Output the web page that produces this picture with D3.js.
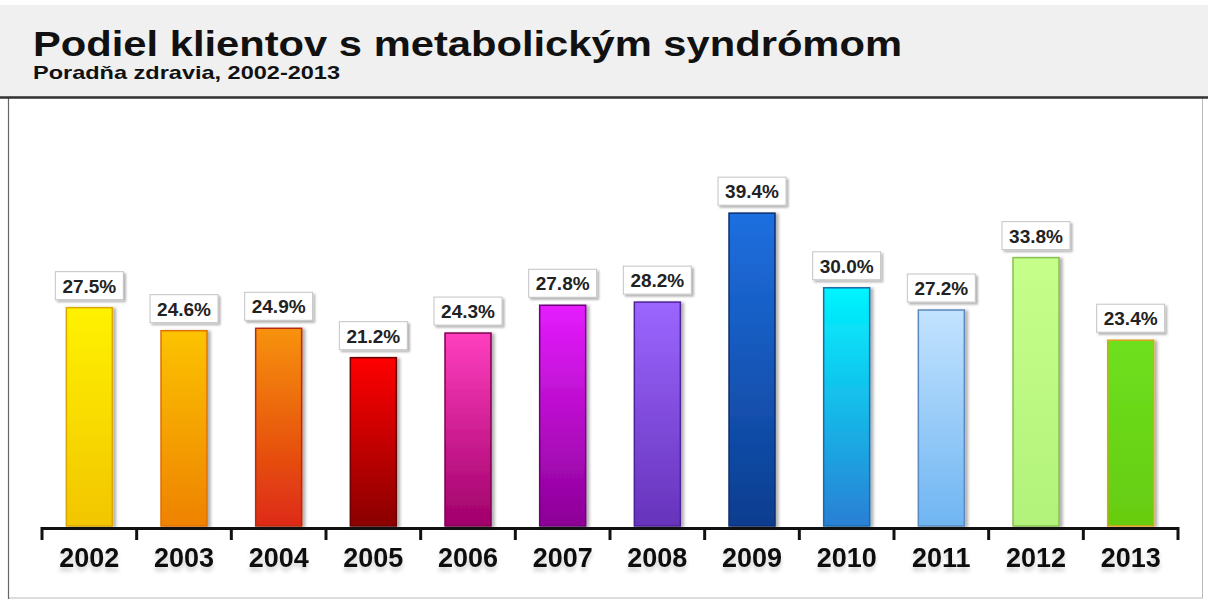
<!DOCTYPE html>
<html><head><meta charset="utf-8">
<script src="https://cdn.jsdelivr.net/npm/d3@7"></script>
<style>
html,body{margin:0;padding:0;background:#fff;}
svg{display:block;font-family:"Liberation Sans",Arial,sans-serif;}
</style></head>
<body>
<svg id="chart" width="1208" height="599"></svg>
<script>
const title = "Podiel klientov s metabolickým syndrómom";
const subtitle = "Poradňa zdravia, 2002-2013";
const years = ["2002","2003","2004","2005","2006","2007","2008","2009","2010","2011","2012","2013"];
const values = [27.5,24.6,24.9,21.2,24.3,27.8,28.2,39.4,30.0,27.2,33.8,23.4];
const topColors = ["#fff200","#fcc300","#f7930a","#ff0000","#ff3fbf","#e51cff","#9b66ff","#1e6fe0","#00f5ff","#c3e3ff","#c6ff8a","#6ee01e"];
const bottomColors = ["#f2c500","#ee8200","#dd2a14","#8a0000","#a0006a","#8c0096","#6633bb","#0b3d8f","#2a7fd4","#6fb5f2","#b2f27a","#66cc10"];
const borderColors = ["#d8a800","#e07000","#b82a10","#6a0000","#80004f","#6e0078","#4d2499","#0a2f70","#1a6aa8","#5a8ac0","#88c050","#e0a020"];

const svg = d3.select("#chart");
const W = 1208, H = 599;
const defs = svg.append("defs");

// filters
const sh = defs.append("filter").attr("id","barShadow").attr("x","-30%").attr("y","-10%").attr("width","160%").attr("height","130%");
sh.append("feDropShadow").attr("dx",3).attr("dy",1).attr("stdDeviation",1.6).attr("flood-color","#000").attr("flood-opacity",0.3);
const sh2 = defs.append("filter").attr("id","boxShadow").attr("x","-20%").attr("y","-20%").attr("width","140%").attr("height","160%");
sh2.append("feDropShadow").attr("dx",2).attr("dy",2).attr("stdDeviation",1.2).attr("flood-color","#000").attr("flood-opacity",0.3);
const sh3 = defs.append("filter").attr("id","txtShadow").attr("x","-20%").attr("y","-20%").attr("width","140%").attr("height","180%");
sh3.append("feDropShadow").attr("dx",0).attr("dy",4).attr("stdDeviation",2).attr("flood-color","#000").attr("flood-opacity",0.18);

years.forEach((y,i)=>{
  const g = defs.append("linearGradient").attr("id","grad"+i).attr("x1",0).attr("y1",0).attr("x2",0).attr("y2",1);
  g.append("stop").attr("offset","0%").attr("stop-color",topColors[i]);
  g.append("stop").attr("offset","100%").attr("stop-color",bottomColors[i]);
});

// header
svg.append("rect").attr("x",0).attr("y",5).attr("width",W).attr("height",92).attr("fill","#f0f0f0");
svg.append("rect").attr("x",8.5).attr("y",97).attr("width",1194).attr("height",501).attr("fill","#fff").attr("stroke","#bbb").attr("stroke-width",1);
svg.append("line").attr("x1",8.5).attr("x2",8.5).attr("y1",97).attr("y2",599).attr("stroke","#666").attr("stroke-width",1.2);
svg.append("line").attr("x1",0).attr("x2",W).attr("y1",97.5).attr("y2",97.5).attr("stroke","#333").attr("stroke-width",2.5);

svg.append("text").attr("x",33).attr("y",56).attr("font-size",35).attr("font-weight","bold").attr("fill","#111")
  .attr("textLength",869).attr("lengthAdjust","spacingAndGlyphs").text(title);
svg.append("text").attr("x",33).attr("y",79).attr("font-size",18.5).attr("font-weight","bold").attr("fill","#111")
  .attr("textLength",307).attr("lengthAdjust","spacingAndGlyphs").text(subtitle);

// scales
const x = d3.scaleBand().domain(years).range([42,1178]).padding(0);
const y = d3.scaleLinear().domain([0,50]).range([526,526-7.94*50]);
const barW = 46;

const bars = svg.append("g");
bars.selectAll("rect").data(years).join("rect")
  .attr("x",d=>x(d)+(x.bandwidth()-barW)/2)
  .attr("y",(d,i)=>y(values[i]))
  .attr("width",barW)
  .attr("height",(d,i)=>y(0)-y(values[i]))
  .attr("fill",(d,i)=>`url(#grad${i})`)
  .attr("stroke",(d,i)=>borderColors[i])
  .attr("stroke-width",1.5)
  .attr("filter","url(#barShadow)");

// value labels
const lab = svg.append("g");
const boxW = 68, boxH = 28;
lab.selectAll("rect").data(years).join("rect")
  .attr("x",d=>x(d)+x.bandwidth()/2-boxW/2)
  .attr("y",(d,i)=>y(values[i])-8-boxH)
  .attr("width",boxW).attr("height",boxH)
  .attr("fill","#fff").attr("stroke","#c4c4c4").attr("stroke-width",1)
  .attr("filter","url(#boxShadow)");
lab.selectAll("text").data(years).join("text")
  .attr("x",d=>x(d)+x.bandwidth()/2)
  .attr("y",(d,i)=>y(values[i])-8-boxH/2+7)
  .attr("text-anchor","middle").attr("font-size",19).attr("font-weight","bold").attr("fill","#222")
  .text((d,i)=>values[i].toFixed(1)+"%");

// axis
const axisG = svg.append("g").attr("transform","translate(0,528)");
axisG.call(d3.axisBottom(x).tickSize(0).tickPadding(20));
axisG.select(".domain").attr("stroke","#111").attr("stroke-width",3);
axisG.selectAll(".tick text").attr("font-size",27).attr("font-weight","bold").attr("fill","#111")
  .attr("font-family","'Liberation Sans',Arial,sans-serif").attr("filter","url(#txtShadow)");
const bounds = years.map(d=>x(d)).concat([x.range()[1]]);
axisG.selectAll("line.bnd").data(bounds).join("line").attr("class","bnd")
  .attr("x1",d=>d).attr("x2",d=>d).attr("y1",-1).attr("y2",12)
  .attr("stroke","#111").attr("stroke-width",3);
</script>
</body></html>
